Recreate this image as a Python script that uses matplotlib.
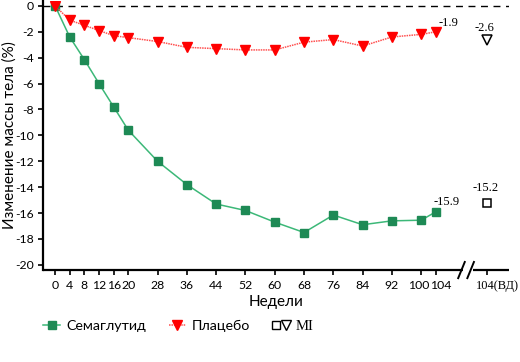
import matplotlib
matplotlib.use("Agg")
import matplotlib.pyplot as plt
import matplotlib.transforms as mtransforms
from matplotlib.lines import Line2D
from matplotlib.legend_handler import HandlerTuple

weeks = [0, 4, 8, 12, 16, 20, 28, 36, 44, 52, 60, 68, 76, 84, 92, 100, 104]
semaglutide = [0, -2.4, -4.15, -6.0, -7.8, -9.6, -12.0, -13.8, -15.3, -15.8, -16.7,
               -17.5, -16.15, -16.9, -16.6, -16.55, -15.9]
placebo = [0, -1.1, -1.5, -1.9, -2.3, -2.45, -2.75, -3.2, -3.3, -3.4, -3.4,
           -2.8, -2.6, -3.1, -2.4, -2.2, -2.0]
mi_week = 118
mi_semaglutide = -15.2
mi_placebo = -2.6
end_labels = ["-15.9", "-1.9"]
mi_labels = ["-15.2", "-2.6"]
xtick_pos = [0, 4, 8, 12, 16, 20, 28, 36, 44, 52, 60, 68, 76, 84, 92, 100, 104, 118]
xtick_labels = ["0", "4", "8", "12", "16", "20", "28", "36", "44", "52", "60", "68",
                "76", "84", "92", "100", "104", "104(ВД)"]
yticks = list(range(0, -21, -2))

SANS = "Lato"
SERIF = "Liberation Serif"
plt.rcParams["font.family"] = [SANS, "DejaVu Sans"]

fig = plt.figure(figsize=(5.2, 3.62), dpi=100)
ax = fig.add_axes([0.082, 0.254, 0.897, 0.744])

green_line = "#3cb878"
green_mark = "#1e8a55"
red = "#ff0000"

ax.axhline(0, color="black", lw=1, ls=(0, (5, 4)), zorder=1)

ax.plot(weeks, semaglutide, color=green_line, lw=1.1, marker="s", ms=5.6,
        mfc=green_mark, mec=green_mark, zorder=3)
ax.plot(weeks, placebo, color="#ff5050", lw=1.1, ls=(0, (1, 0.6)), marker="v", ms=6.8,
        mfc=red, mec=red, zorder=4)

ax.plot([mi_week], [mi_semaglutide], marker="s", ms=6, mfc="white", mec="black", mew=1.1, ls="none")
ax.plot([mi_week], [mi_placebo], marker="v", ms=6.5, mfc="white", mec="black", mew=1.1, ls="none")

ax.annotate(end_labels[0], (weeks[-1], semaglutide[-1]), xytext=(-2, 3), textcoords="offset points",
            fontfamily=SERIF, fontsize=9, ha="left", va="bottom")
ax.annotate(end_labels[1], (weeks[-1], placebo[-1]), xytext=(2, 2), textcoords="offset points",
            fontfamily=SERIF, fontsize=9, ha="left", va="bottom")
ax.annotate(mi_labels[0], (mi_week, mi_semaglutide), xytext=(-1, 6), textcoords="offset points",
            fontfamily=SERIF, fontsize=9, ha="center", va="bottom")
ax.annotate(mi_labels[1], (mi_week, mi_placebo), xytext=(-2, 4), textcoords="offset points",
            fontfamily=SERIF, fontsize=9, ha="center", va="bottom")

ax.set_xlim(-3.4, 124)
ax.set_ylim(-20.4, 0.4)
ax.set_yticks(yticks)
ax.set_yticklabels([str(v) for v in yticks])
ax.set_xticks(xtick_pos)
ax.set_xticklabels(xtick_labels)
ax.tick_params(axis="both", labelsize=8.8, length=3.5, width=1.2, color="black", pad=3)
ax.tick_params(axis="x", length=3.5, pad=4)
for lbl in ax.get_xticklabels():
    txt = lbl.get_text()
    if "ВД" in txt:
        lbl.set_fontfamily(SERIF)
        lbl.set_fontsize(9)
        lbl.set_transform(lbl.get_transform() + mtransforms.ScaledTranslation(10 / 100, 0, fig.dpi_scale_trans))
    elif txt == "104":
        lbl.set_transform(lbl.get_transform() + mtransforms.ScaledTranslation(5 / 100, 0, fig.dpi_scale_trans))
    elif txt == "100":
        lbl.set_transform(lbl.get_transform() + mtransforms.ScaledTranslation(-2 / 100, 0, fig.dpi_scale_trans))

for s in ["top", "right", "bottom"]:
    ax.spines[s].set_visible(False)
ax.spines["left"].set_linewidth(1.6)

# bottom axis line with a break
tr = ax.get_xaxis_transform()
brk1, brk2 = 111.0, 113.5
ax.plot([-3.4, brk1 + 0.4], [0, 0], transform=tr, color="black", lw=1.6, clip_on=False, solid_capstyle="butt")
ax.plot([brk2 + 0.6, 124], [0, 0], transform=tr, color="black", lw=1.6, clip_on=False, solid_capstyle="butt")
for b in (brk1, brk2):
    ax.plot([b - 0.9, b + 0.9], [-0.03, 0.03], transform=tr, color="black", lw=1.4, clip_on=False)

ax.set_ylabel("Изменение массы тела (%)", fontsize=11)
ax.yaxis.set_label_coords(-0.056, 0.5)
ax.set_xlabel("Недели", fontsize=11, labelpad=2)

h1 = Line2D([], [], color=green_line, lw=1.1, marker="s", ms=5.6, mfc=green_mark, mec=green_mark)
h2 = Line2D([], [], color="#ff5050", lw=1.1, ls=(0, (1, 0.6)), marker="v", ms=6.8, mfc=red, mec=red)
h3a = Line2D([], [], ls="none", marker="s", ms=6, mfc="white", mec="black")
h3b = Line2D([], [], ls="none", marker="v", ms=6.5, mfc="white", mec="black")
leg = fig.legend([h1, h2, (h3a, h3b)], ["Семаглутид", "Плацебо", "MI"],
                 handler_map={tuple: HandlerTuple(ndivide=None, pad=0.2)},
                 loc="center left", bbox_to_anchor=(0.083, 0.097), ncol=3, frameon=False,
                 fontsize=10.3, handlelength=1.2, handletextpad=0.4, columnspacing=1.6,
                 borderpad=0, borderaxespad=0)
leg.get_texts()[2].set_fontfamily(SERIF)
leg.get_texts()[2].set_fontsize(10.5)

fig.savefig("out.png", dpi=100)
